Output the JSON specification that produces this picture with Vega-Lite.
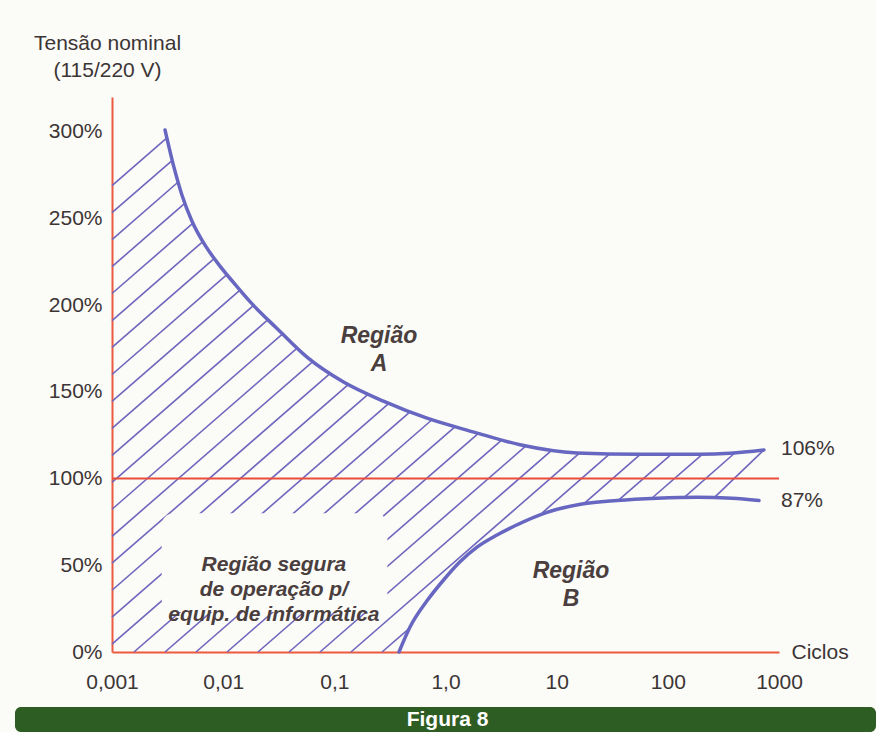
{
  "$schema": "https://vega.github.io/schema/vega-lite/v6.json",
  "background": "#fbfbf7",
  "padding": {"left": 15, "top": 32, "right": 0, "bottom": 0},
  "autosize": {"type": "pad"},
  "spacing": 55,
  "bounds": "flush",
  "center": true,
  "config": {
    "font": "Liberation Sans",
    "view": {"stroke": null},
    "axis": {
      "grid": false, "ticks": false, "tickSize": 0, "zindex": 1,
      "labelFont": "Liberation Sans", "labelFontSize": 21, "labelColor": "#3b3535",
      "labelFlush": false, "labelOverlap": false,
      "titleFont": "Liberation Sans", "titleFontSize": 21, "titleFontWeight": "normal", "titleColor": "#3b3535",
      "domainColor": "#ec5b40", "domainWidth": 2
    }
  },
  "vconcat": [
    {
      "width": 667,
      "height": 555,
      "view": {"stroke": null},
      "encoding": {
        "x": {
          "field": "x", "type": "quantitative",
          "scale": {"type": "log", "domain": [0.001, 1000], "nice": false},
          "axis": {
            "values": [0.001, 0.01, 0.1, 1, 10, 100, 1000],
            "labelExpr": "datum.value < 0.005 ? '0,001' : datum.value < 0.05 ? '0,01' : datum.value < 0.5 ? '0,1' : datum.value < 5 ? '1,0' : datum.value < 50 ? '10' : datum.value < 500 ? '100' : '1000'",
            "labelPadding": 19,
            "title": "Ciclos", "titleX": 679, "titleY": 0, "titleAlign": "left", "titleBaseline": "middle", "titleAngle": 0
          }
        },
        "y": {
          "field": "y", "type": "quantitative",
          "scale": {"domain": [0, 320], "nice": false, "zero": false},
          "axis": {
            "values": [0, 50, 100, 150, 200, 250, 300],
            "labelExpr": "datum.value + '%'",
            "labelPadding": 10,
            "title": ["Tensão nominal", "(115/220 V)"],
            "titleAngle": 0, "titleX": -5, "titleY": -48, "titleAlign": "center", "titleBaseline": "alphabetic", "titleLineHeight": 27
          }
        }
      },
      "layer": [
        {
          "data": {"values": [
            {"x": 0.001, "y": 268.9, "x2": 0.003118, "y2": 296.4},
            {"x": 0.001, "y": 253.3, "x2": 0.003486, "y2": 283.5},
            {"x": 0.001, "y": 237.8, "x2": 0.00394, "y2": 271.0},
            {"x": 0.001, "y": 222.2, "x2": 0.004536, "y2": 258.8},
            {"x": 0.001, "y": 206.7, "x2": 0.005353, "y2": 247.3},
            {"x": 0.001, "y": 191.1, "x2": 0.0066, "y2": 236.8},
            {"x": 0.001, "y": 175.6, "x2": 0.00834, "y2": 226.9},
            {"x": 0.001, "y": 160.0, "x2": 0.0108, "y2": 217.6},
            {"x": 0.001, "y": 144.5, "x2": 0.01417, "y2": 208.7},
            {"x": 0.001, "y": 128.9, "x2": 0.01878, "y2": 199.9},
            {"x": 0.001, "y": 113.4, "x2": 0.02531, "y2": 191.6},
            {"x": 0.001, "y": 97.8, "x2": 0.03424, "y2": 183.4},
            {"x": 0.001, "y": 82.3, "x2": 0.04653, "y2": 175.3},
            {"x": 0.001, "y": 66.7, "x2": 0.06439, "y2": 167.6},
            {"x": 0.001, "y": 51.2, "x2": 0.09236, "y2": 160.8},
            {"x": 0.001, "y": 35.6, "x2": 0.1341, "y2": 154.3},
            {"x": 0.001, "y": 20.1, "x2": 0.2033, "y2": 148.8},
            {"x": 0.001, "y": 4.5, "x2": 0.3096, "y2": 143.4},
            {"x": 0.001577, "y": 0, "x2": 0.4825, "y2": 138.6},
            {"x": 0.002998, "y": 0, "x2": 0.7557, "y2": 133.9},
            {"x": 0.005695, "y": 0, "x2": 1.222, "y2": 130.0},
            {"x": 0.01083, "y": 0, "x2": 1.977, "y2": 126.1},
            {"x": 0.02057, "y": 0, "x2": 3.215, "y2": 122.3},
            {"x": 0.03911, "y": 0, "x2": 5.319, "y2": 119.0},
            {"x": 0.0743, "y": 0, "x2": 9.228, "y2": 116.8},
            {"x": 0.1412, "y": 0, "x2": 16.14, "y2": 114.8},
            {"x": 0.2684, "y": 0, "x2": 0.4756, "y2": 13.8},
            {"x": 7.379, "y": 80.1, "x2": 30.18, "y2": 114.4},
            {"x": 17.61, "y": 85.6, "x2": 56.52, "y2": 114.0},
            {"x": 35.61, "y": 87.3, "x2": 107.4, "y2": 114.0},
            {"x": 71.28, "y": 88.5, "x2": 204.1, "y2": 114.0},
            {"x": 139.8, "y": 89.0, "x2": 397.6, "y2": 114.6},
            {"x": 260.1, "y": 88.9, "x2": 732.6, "y2": 116.5}
          ]},
          "mark": {"type": "rule", "color": "#6f66be", "strokeWidth": 1.6},
          "encoding": {"x2": {"field": "x2"}, "y2": {"field": "y2"}}
        },
        {
          "data": {"values": [{"x": 0.0028, "x2": 0.3, "y": 23, "y2": 80}]},
          "mark": {"type": "rect", "color": "#fbfbf7", "cornerRadius": 12},
          "encoding": {"x2": {"field": "x2"}, "y2": {"field": "y2"}}
        },
        {
          "data": {"values": [{"x": 0.001, "x2": 1000, "y": 100}]},
          "mark": {"type": "rule", "color": "#ea4e3a", "strokeWidth": 2},
          "encoding": {"x2": {"field": "x2"}}
        },
        {
          "data": {"values": [
            {"x": 0.003, "y": 301}, {"x": 0.003612, "y": 279.4}, {"x": 0.004263, "y": 263.4},
            {"x": 0.005243, "y": 248.4}, {"x": 0.007009, "y": 233.7}, {"x": 0.009365, "y": 222.5},
            {"x": 0.01251, "y": 212.7}, {"x": 0.01743, "y": 202}, {"x": 0.0305, "y": 186.5},
            {"x": 0.05677, "y": 170}, {"x": 0.1221, "y": 155.5}, {"x": 0.2797, "y": 144.5},
            {"x": 0.6817, "y": 134.8}, {"x": 1.804, "y": 126.8}, {"x": 4.679, "y": 119.5},
            {"x": 15.23, "y": 114.8}, {"x": 56.17, "y": 114}, {"x": 194.6, "y": 114},
            {"x": 362.4, "y": 114.6}, {"x": 732.6, "y": 116.5}
          ]},
          "mark": {"type": "line", "color": "#6767c2", "strokeWidth": 3.5, "interpolate": "monotone", "strokeCap": "round"},
          "encoding": {}
        },
        {
          "data": {"values": [
            {"x": 0.3816, "y": 0}, {"x": 0.4796, "y": 14.4}, {"x": 0.6817, "y": 29.5},
            {"x": 0.9692, "y": 41.8}, {"x": 1.35, "y": 52}, {"x": 1.92, "y": 60.5},
            {"x": 2.905, "y": 67.5}, {"x": 4.131, "y": 72.5}, {"x": 8.182, "y": 80.5},
            {"x": 16.89, "y": 85.3}, {"x": 34.88, "y": 87.3}, {"x": 79.88, "y": 88.6},
            {"x": 182.9, "y": 89.2}, {"x": 377.6, "y": 88.6}, {"x": 660.6, "y": 87.3}
          ]},
          "mark": {"type": "line", "color": "#6767c2", "strokeWidth": 3.5, "interpolate": "monotone", "strokeCap": "round"},
          "encoding": {}
        },
        {
          "data": {"values": [
            {"x": 0.2522, "y": 182.4, "label": "Região\nA"},
            {"x": 13.45, "y": 46.9, "label": "Região\nB"}
          ]},
          "mark": {"type": "text", "lineBreak": "\n", "font": "Liberation Sans", "fontSize": 23, "fontWeight": "bold", "fontStyle": "italic", "color": "#4a3e3e", "align": "center", "baseline": "middle", "lineHeight": 28},
          "encoding": {"text": {"field": "label"}}
        },
        {
          "data": {"values": [
            {"x": 0.0286, "y": 50, "label": "Região segura\nde operação p/\nequip. de informática"}
          ]},
          "mark": {"type": "text", "lineBreak": "\n", "font": "Liberation Sans", "fontSize": 21, "fontWeight": "bold", "fontStyle": "italic", "color": "#4a3e3e", "align": "center", "baseline": "middle", "lineHeight": 25},
          "encoding": {"text": {"field": "label"}}
        },
        {
          "data": {"values": [
            {"x": 1000, "y": 117, "label": "106%"},
            {"x": 1000, "y": 87.3, "label": "87%"}
          ]},
          "mark": {"type": "text", "font": "Liberation Sans", "fontSize": 21, "color": "#3b3535", "align": "left", "baseline": "middle", "dx": 2},
          "encoding": {"text": {"field": "label"}}
        }
      ]
    },
    {
      "width": 861,
      "height": 25,
      "view": {"fill": "#2e5d23", "stroke": null, "cornerRadius": 6},
      "data": {"values": [{"label": "Figura 8"}]},
      "mark": {"type": "text", "color": "#ffffff", "fontSize": 21, "fontWeight": "bold", "font": "Liberation Sans", "baseline": "middle", "dx": 2},
      "encoding": {"text": {"field": "label"}}
    }
  ]
}
